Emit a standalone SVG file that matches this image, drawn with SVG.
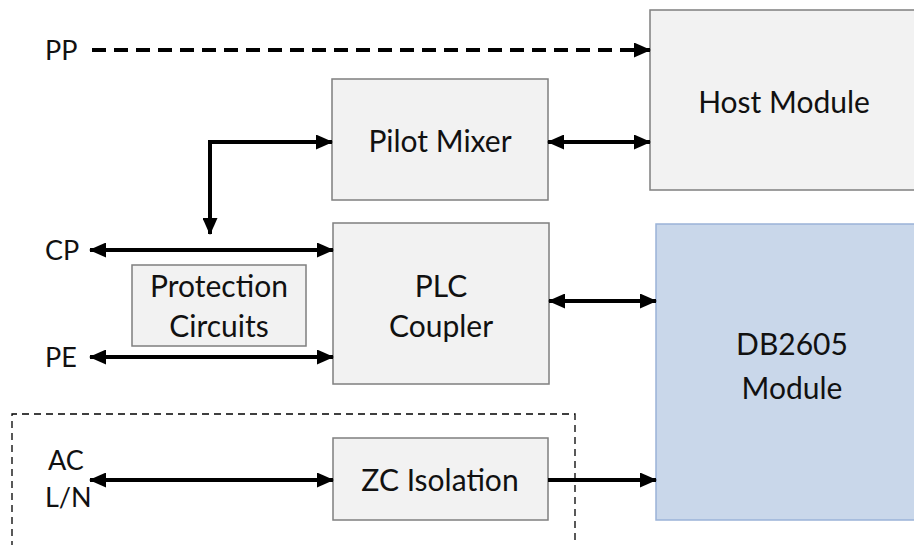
<svg xmlns="http://www.w3.org/2000/svg" width="914" height="545" viewBox="0 0 914 545">
<style>
.box{fill:#f2f2f2;stroke:#7f7f7f;stroke-width:1.5}
.blue{fill:#c9d7ea;stroke:#9ab3d8;stroke-width:1.5}
.t{font-family:Lato,"Open Sans",sans-serif;font-size:30px;fill:#111;text-anchor:middle}
.l{font-family:Lato,"Open Sans",sans-serif;font-size:27px;fill:#111}
.c{stroke:#000;stroke-width:4;fill:none}
</style>
<defs>
<marker id="ah" markerWidth="17" markerHeight="15" refX="16" refY="7.5" orient="auto-start-reverse" markerUnits="userSpaceOnUse">
<path d="M0,0 L17,7.5 L0,15 Z" fill="#000"/>
</marker>
</defs>
<rect width="914" height="545" fill="#fff"/>
<g id="host"><rect class="box" x="650" y="10" width="270" height="180"/><text class="t" x="784" y="113">Host Module</text></g>
<g id="pilot"><rect class="box" x="332" y="79" width="216" height="121"/><text class="t" x="440" y="152">Pilot Mixer</text></g>
<g id="plc"><rect class="box" x="333" y="223" width="216" height="161"/><text class="t" x="441" y="297">PLC</text><text class="t" x="441" y="337">Coupler</text></g>
<g id="prot"><rect class="box" x="132" y="265" width="174" height="81"/><text class="t" x="219" y="297">Protection</text><text class="t" x="219" y="337">Circuits</text></g>
<g id="db"><rect class="blue" x="656" y="224" width="264" height="296"/><text class="t" x="792" y="355">DB2605</text><text class="t" x="792" y="399">Module</text></g>
<g id="zc"><rect class="box" x="333" y="438" width="215" height="82"/><text class="t" x="440" y="491">ZC Isolation</text></g>
<g id="acgroup"><path d="M12,548 V414 H575 V548" fill="none" stroke="#000" stroke-width="1.3" stroke-dasharray="7,5"/></g>
<g id="labels">
<text class="l" x="45" y="60">PP</text>
<text class="l" x="45" y="260">CP</text>
<text class="l" x="45" y="367">PE</text>
<text class="l" x="48" y="470">AC</text>
<text class="l" x="45" y="507">L/N</text>
</g>
<g id="connectors">
<path class="c" d="M92,50 H650" stroke-dasharray="14,8" marker-end="url(#ah)"/>
<path class="c" d="M548,142 H650" marker-start="url(#ah)" marker-end="url(#ah)"/>
<path class="c" d="M210,234 V142 H332" marker-start="url(#ah)" marker-end="url(#ah)"/>
<path class="c" d="M90,250 H333" marker-start="url(#ah)" marker-end="url(#ah)"/>
<path class="c" d="M90,357 H333" marker-start="url(#ah)" marker-end="url(#ah)"/>
<path class="c" d="M549,301 H656" marker-start="url(#ah)" marker-end="url(#ah)"/>
<path class="c" d="M90,480 H333" marker-start="url(#ah)" marker-end="url(#ah)"/>
<path class="c" d="M548,480 H656" marker-end="url(#ah)"/>
</g>
</svg>
